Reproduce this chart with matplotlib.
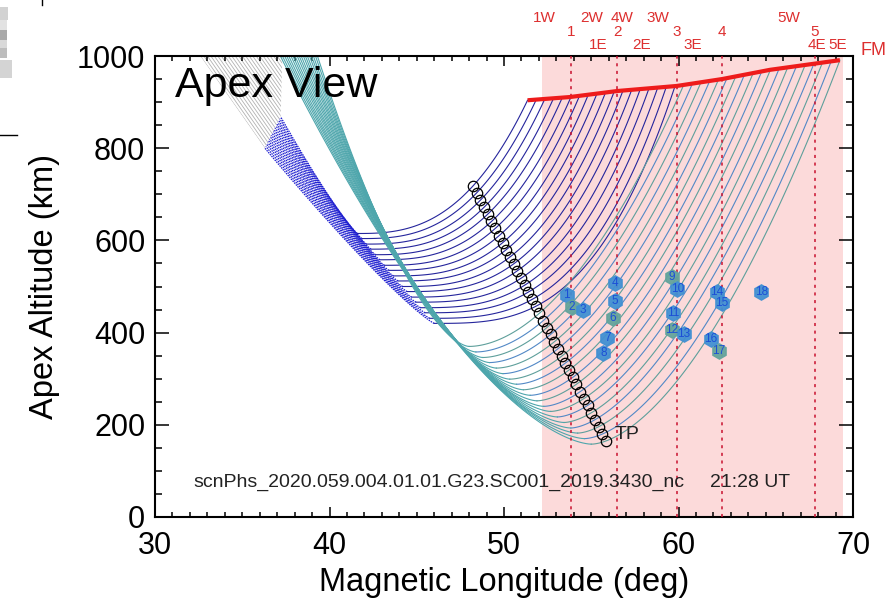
import numpy as np
import matplotlib
matplotlib.use("Agg")
import matplotlib.pyplot as plt
from matplotlib.patches import Polygon, Rectangle
from matplotlib.lines import Line2D
from matplotlib.transforms import blended_transform_factory

plt.rcParams['font.family'] = ['Liberation Sans', 'DejaVu Sans']

# ---------------- data ----------------
# FM altitude track (red line)
fm_lon = [51.35, 53.78, 56.48, 59.90, 62.50, 65.24, 69.25]
fm_alt = [904, 911, 924, 935, 950, 970, 991]

# eastern end of each ray path on the FM track (magnetic longitude)
end_lon = [51.35, 51.85, 52.34, 52.84, 53.34, 53.84, 54.33, 54.83, 55.33, 55.82,
           56.32, 56.82, 57.32, 57.81, 58.31, 58.81, 59.30, 59.80, 60.30, 60.80,
           61.29, 61.79, 62.29, 62.78, 63.28, 63.78, 64.28, 64.77, 65.27, 65.77,
           66.26, 66.76, 67.26, 67.76, 68.25, 68.75, 69.25]

# tangent points (open circles)
tp_lon = [48.22, 48.43, 48.64, 48.86, 49.07, 49.28, 49.50, 49.71, 49.92, 50.13,
          50.34, 50.55, 50.76, 50.98, 51.19, 51.40, 51.61, 51.82, 52.03, 52.25,
          52.46, 52.67, 52.88, 53.09, 53.31, 53.52, 53.73, 53.94, 54.15, 54.37,
          54.58, 54.79, 55.00, 55.21, 55.43, 55.64, 55.85]
tp_alt = [718, 703, 687, 672, 657, 641, 626, 610, 595, 580,
          564, 549, 534, 518, 503, 488, 472, 457, 442, 426,
          411, 396, 380, 365, 349, 334, 319, 303, 288, 272,
          257, 242, 226, 211, 196, 180, 165]

# lowest apex altitude reached by each path
min_lon = [41.60, 41.86, 42.12, 42.38, 42.64, 42.89, 43.15, 43.41, 43.67, 43.93,
           44.19, 44.45, 44.71, 44.96, 45.22, 45.48, 45.74, 46.00,
           48.00, 48.39, 48.78, 49.17, 49.56, 49.94, 50.33, 50.72, 51.11, 51.50,
           51.89, 52.28, 52.67, 53.06, 53.44, 53.83, 54.22, 54.61, 55.00]
min_alt = [615, 604, 592, 581, 569, 558, 546, 535, 523, 512,
           500, 489, 477, 466, 454, 443, 431, 420,
           370, 358, 346, 335, 323, 311, 299, 288, 276, 264,
           252, 240, 229, 217, 205, 193, 182, 170, 158]

# western end of each path
west_lon = [37.20, 37.15, 37.09, 37.04, 36.99, 36.94, 36.88, 36.83, 36.78, 36.72,
            36.67, 36.62, 36.56, 36.51, 36.46, 36.41, 36.35, 36.30,
            38.80, 38.67, 38.53, 38.40, 38.27, 38.13, 38.00, 37.87, 37.73, 37.60,
            37.47, 37.33, 37.20, 37.07, 36.93, 36.80, 36.67, 36.53, 36.40]
west_alt = [868, 864, 860, 856, 852, 848, 844, 840, 836, 832,
            828, 824, 820, 816, 812, 808, 804, 800,
            1060, 1060, 1060, 1060, 1060, 1060, 1060, 1060, 1060, 1060,
            1060, 1060, 1060, 1060, 1060, 1060, 1060, 1060, 1060]
n_low = 18  # paths of the first receiver group (dark blue)

# far-west path segments (gray), longitude where they leave the top
gray_top_lon = [32.6, 32.8, 33.0, 33.2, 33.4, 33.6, 33.8, 34.0, 34.2, 34.4, 34.6, 34.8,
                35.0, 35.2, 35.4, 35.6, 35.8, 36.0, 36.2, 36.4, 36.6, 36.8, 37.0, 37.2]

# receiver longitudes (top labels)
west_names = ['1W', '2W', '4W', '3W', '5W']
west_pos = [52.30, 55.05, 56.77, 58.83, 66.30]
site_names = ['1', '2', '3', '4', '5']
site_pos = [53.84, 56.50, 59.90, 62.50, 67.80]
east_names = ['1E', '2E', '3E', '4E', '5E']
east_pos = [55.40, 57.90, 60.80, 67.94, 69.14]

# numbered scintillation samples
pt_id = list(range(1, 19))
pt_lon = [53.59, 53.88, 54.54, 56.36, 56.36, 56.23, 55.92, 55.69, 59.61, 59.93,
          59.70, 59.62, 60.32, 62.19, 62.48, 61.85, 62.33, 64.75]
pt_alt = [482, 456, 450, 507, 469, 431, 388, 356, 520, 494,
          443, 406, 398, 489, 464, 387, 361, 489]
pt_group = ['b', 'g', 'b', 'b', 'b', 'g', 'b', 'b', 'g', 'b',
            'b', 'g', 'b', 'b', 'b', 'b', 'g', 'b']

fov_lon = (52.2, 69.4)

# ---------------- figure ----------------
W, H = 890, 601
fig = plt.figure(figsize=(W / 100, H / 100), dpi=100)
ax = fig.add_axes([155 / W, 1 - 517 / H, 698 / W, 461 / H])
ax.set_xlim(30, 70)
ax.set_ylim(0, 1000)

ax.axvspan(fov_lon[0], fov_lon[1], color='#fcdada', lw=0, zorder=0)

# gray far-west segments, clipped to their wedge
wedge = Polygon([(32.6, 1000), (37.3, 1000), (37.2, 868), (36.3, 800)],
                closed=True, transform=ax.transData, fill=False, lw=0)
ax.add_patch(wedge)
for xt in gray_top_lon:
    ln, = ax.plot([xt, xt + 5.0], [1000, 1000 - 270], color='#b2b2b2', lw=0.6, zorder=1)
    ln.set_clip_path(wedge)

fm_lon_a = np.array(fm_lon)
fm_alt_a = np.array(fm_alt)


def branch(x0, y0, x1, y1, p, n=120):
    u = np.linspace(0, 1, n)
    return x0 + (x1 - x0) * u, y0 + (y1 - y0) * u ** p


teal_cols = ['#5e9f9b', '#5288c6']
for i in range(len(end_lon)):
    xe = end_lon[i]
    ye = np.interp(xe, fm_lon_a, fm_alt_a)
    xm, ym = min_lon[i], min_alt[i]
    xc, yc = tp_lon[i], tp_alt[i]
    pr = np.log((yc - ym) / (ye - ym)) / np.log((xc - xm) / (xe - xm))
    xr, yr = branch(xm, ym, xe, ye, pr)
    if i < n_low:
        xl, yl = branch(xm, ym, west_lon[i], west_alt[i], 1.15)
        ax.plot(xr, yr, color='#25259c', lw=0.8, zorder=2)
        ax.plot(xl, yl, color='#1e1ed0', lw=0.9, ls=(0, (1.2, 0.8)), zorder=2)
    else:
        col = teal_cols[i % 2]
        xl, yl = branch(xm, ym, west_lon[i], west_alt[i], 1.6)
        ax.plot(xr, yr, color=col, lw=0.8, zorder=2.2)
        ax.plot(xl, yl, color='#4ea6ac', lw=0.8, zorder=2.2)

# receiver meridians
for xs in site_pos:
    ax.axvline(xs, color='#c8102e', lw=1.1, ls=(0, (2, 3)), zorder=3)

# FM track
ax.plot(fm_lon, fm_alt, color='#ee1b1b', lw=3, zorder=4, solid_capstyle='butt')

# tangent points
ax.plot(tp_lon, tp_alt, ls='none', marker='o', ms=7.5, mfc='none', mec='black',
        mew=0.9, zorder=5)
ax.text(56.35, 178, 'TP', fontsize=14, color='#222222', va='center', ha='left', zorder=6)

# numbered samples
face = {'b': '#4290d2', 'g': '#64a49c'}
for k, x, y, g in zip(pt_id, pt_lon, pt_alt, pt_group):
    ax.plot(x, y, marker='h', ms=11, mfc=face[g], mec=face[g], ls='none', zorder=6, alpha=0.95)
    ax.text(x, y, str(k), fontsize=8.5, color='#1c4fd6', ha='center', va='center', zorder=7)

ax.text(31.15, 911, 'Apex View', fontsize=31, color='black', ha='left',
        va='baseline', zorder=8)
ax.text(32.2, 74, 'scnPhs_2020.059.004.01.01.G23.SC001_2019.3430_nc', fontsize=14,
        color='#222222', ha='left', va='center', zorder=8)
ax.text(61.8, 74, '21:28 UT', fontsize=14, color='#222222', ha='left', va='center', zorder=8)

# top labels
bt = blended_transform_factory(ax.transData, ax.transAxes)
red = '#dd2f2f'
for nm, xp in zip(west_names, west_pos):
    ax.text(xp, 1.082, nm, transform=bt, fontsize=11, color=red, ha='center', va='center',
            clip_on=False)
for nm, xp in zip(site_names, site_pos):
    ax.text(xp, 1.052, nm, transform=bt, fontsize=11, color=red, ha='center', va='center',
            clip_on=False)
for nm, xp in zip(east_names, east_pos):
    ax.text(xp, 1.024, nm, transform=bt, fontsize=11, color=red, ha='center', va='center',
            clip_on=False)
ax.text(70.45, 1.013, 'FM', transform=bt, fontsize=13, color=red, ha='left', va='center',
        clip_on=False)

# axes styling
ax.set_xticks([30, 40, 50, 60, 70])
ax.set_yticks([0, 200, 400, 600, 800, 1000])
ax.set_xticks(np.arange(30, 71, 1), minor=True)
ax.set_yticks(np.arange(0, 1001, 50), minor=True)
ax.tick_params(axis='both', which='both', direction='in', top=True, right=True,
               width=1.1, colors='black', labelsize=22)
ax.tick_params(axis='x', which='major', length=7.5, pad=10)
ax.tick_params(axis='x', which='minor', length=3.7)
ax.tick_params(axis='y', which='major', length=10, pad=7)
ax.tick_params(axis='y', which='minor', length=5)
for s in ax.spines.values():
    s.set_linewidth(1.5)
ax.set_xlabel('Magnetic Longitude (deg)', fontsize=23.5)
ax.set_ylabel('Apex Altitude (km)', fontsize=23.5)
ax.xaxis.set_label_coords(0.5, -0.108)
ax.yaxis.set_label_coords(-0.136, 0.5)

# neighbouring-panel remnants at the left edge
def px_rect(x, y, w, h, c):
    fig.add_artist(Rectangle((x / W, 1 - (y + h) / H), w / W, h / H,
                             transform=fig.transFigure, color=c, lw=0))

px_rect(0, 7, 8, 13, '#d2d2d2')
px_rect(0, 20, 7, 10, '#e2e2e2')
px_rect(0, 30, 7, 10, '#a9a9a9')
px_rect(0, 40, 7, 8, '#d9d9d9')
px_rect(0, 48, 7, 10, '#bdbdbd')
px_rect(0, 60, 12, 18, '#d4d4d4')
fig.add_artist(Line2D([0, 17 / W], [1 - 135 / H] * 2, transform=fig.transFigure,
                      color='black', lw=1))
fig.add_artist(Line2D([42 / W] * 2, [1, 1 - 5 / H], transform=fig.transFigure,
                      color='black', lw=1))

fig.savefig('out.png', dpi=100, facecolor='white')
